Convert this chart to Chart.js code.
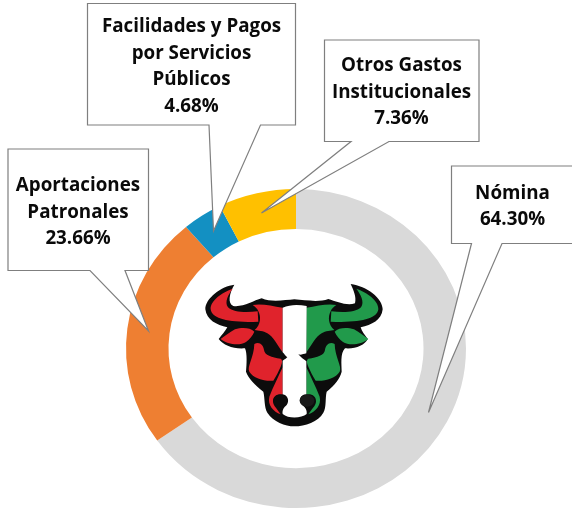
<!DOCTYPE html>
<html lang="es">
<head>
<meta charset="utf-8">
<title>Distribución del gasto</title>
<script src="https://cdn.jsdelivr.net/npm/chart.js@4"></script>
<style>
html,body{margin:0;padding:0;background:#fff;}
#wrap{position:relative;width:572px;height:510px;overflow:hidden;}
canvas{display:block;}
</style>
</head>
<body>
<div id="wrap"><canvas id="c" width="572" height="510"></canvas></div>
<script>
const categories = ["Nómina", "Aportaciones Patronales", "Facilidades y Pagos por Servicios Públicos", "Otros Gastos Institucionales"];
// percentages as printed in the callouts
const values = [64.30, 23.66, 4.68, 7.36];
// arc sizes as measured on the ring in the picture (they differ slightly from the printed figures)
const sliceShares = [65.2, 23.6, 3.8, 7.4];
const sliceColors = ["#d9d9d9", "#ee7f32", "#1390c2", "#ffc000"];
const labelLines = [
  ["Nómina"],
  ["Aportaciones", "Patronales"],
  ["Facilidades y Pagos", "por Servicios", "Públicos"],
  ["Otros Gastos", "Institucionales"]
];
const callouts = [
  {x0:451.5, y0:166, x1:575, y1:243.5, tail:[[471.5,243.5],[428.5,412.5],[502,243.5]], cx:512.5, top:194, lh:26},
  {x0:8, y0:149, x1:148.5, y1:270.5, tail:[[90,270.5],[148.5,331],[125,270.5]], cx:78, top:186, lh:26.5},
  {x0:87.5, y0:3.5, x1:295.5, y1:125, tail:[[209,125],[213.5,231],[260.5,125]], cx:191.5, top:27, lh:26.4},
  {x0:324.5, y0:40, x1:479, y1:141.5, tail:[[351,141.5],[261.5,213],[389,141.5]], cx:401.5, top:66, lh:26.5}
];
const RX_OVER_RY = 170 / 159.5;

const ellipseRing = {
  id: 'ellipseRing',
  beforeDatasetsDraw(chart) {
    const a = chart.chartArea, c = chart.ctx;
    const cx = (a.left + a.right) / 2;
    c.save();
    c.translate(cx, 0); c.scale(RX_OVER_RY, 1); c.translate(-cx, 0);
  },
  afterDatasetsDraw(chart) { chart.ctx.restore(); }
};

function drawHalfBull(c, fill) {
  c.fillStyle = fill;
  c.fill(new Path2D("M128 56 C98 66 60 92 62 118 C66 146 112 159 205 155 L203 124 C170 128 130 128 114 112 C102 96 116 72 128 56Z"));
  c.fill(new Path2D("M188 105 C215 100 245 108 278 113 L278 247 C262 225 250 200 232 190 C220 182 205 182 194 180 C212 165 214 140 205 124 C202 115 195 110 188 105Z"));
  c.fill(new Path2D("M92 207 C105 198 120 186 135 178 C155 172 180 172 193 185 C188 198 178 208 168 216 C150 228 112 224 92 207Z"));
  c.fill(new Path2D("M193 222 C208 214 220 224 222 240 C224 256 245 262 272 266 C278 270 277 278 272 290 C265 305 258 320 250 332 C225 335 190 325 178 305 C170 290 192 262 193 222Z"));
  c.fill(new Path2D("M278 292 L278 373 C262 370 248 378 249 395 C250 408 262 416 272 433 C250 425 232 405 238 380 C250 350 265 320 278 292Z"));
}

function drawBull(c) {
  c.save();
  c.translate(190, 270);
  c.scale(1/3, 1/3);
  c.fillStyle = "#0c0c0c";
  c.fill(new Path2D("M133 44 C95 48 45 85 46 118 C50 150 80 165 112 172 C105 185 95 195 86 207 C100 225 130 238 165 235 C172 250 170 285 168 305 C175 325 195 345 220 365 C225 385 222 410 232 428 C250 455 285 469 313 469 C345 469 385 455 400 428 C410 410 405 385 410 365 C435 345 450 325 455 305 C455 285 450 250 465 235 C495 238 525 225 533 207 C525 195 515 185 512 172 C545 165 575 150 578 118 C578 85 530 48 482 42 C490 60 500 80 495 100 C470 108 440 95 415 87 C385 98 345 90 313 88 C285 90 245 98 215 85 C190 92 160 112 130 108 C112 100 118 70 133 44Z"));
  drawHalfBull(c, "#e0232c");
  c.save();
  c.translate(627, 0); c.scale(-1, 1);
  drawHalfBull(c, "#219a4b");
  c.restore();
  c.fillStyle = "#ffffff";
  c.fill(new Path2D("M278 113 C300 103 325 103 350 108 L349 250 C340 252 332 256 325 253 C332 262 342 268 349 274 L349 373 C335 372 320 390 337 405 C345 412 352 420 350 432 C335 445 295 447 278 432 C276 420 282 412 290 405 C300 392 292 375 278 373 L278 272 C285 268 290 264 292 262 C287 258 283 252 278 247Z"));
  c.fillStyle = "#0c0c0c";
  c.beginPath(); c.ellipse(271, 392, 21, 18, 0, 0, Math.PI*2); c.fill();
  c.fillStyle = "#1a1a1a";
  c.beginPath(); c.ellipse(351, 392, 22, 18, 0, 0, Math.PI*2); c.fill();
  c.restore();
}

const overlay = {
  id: 'overlay',
  afterDraw(chart) {
    const c = chart.ctx;
    drawBull(c);
    callouts.forEach((o, i) => {
      const t = o.tail;
      c.beginPath();
      c.moveTo(o.x0, o.y0); c.lineTo(o.x1, o.y0); c.lineTo(o.x1, o.y1);
      c.lineTo(t[2][0], t[2][1]); c.lineTo(t[1][0], t[1][1]); c.lineTo(t[0][0], t[0][1]);
      c.lineTo(o.x0, o.y1); c.closePath();
      c.fillStyle = "#ffffff"; c.fill();
      c.strokeStyle = "#7f7f7f"; c.lineWidth = 1.2; c.lineJoin = "miter"; c.stroke();
      const lines = labelLines[i].concat(values[i].toFixed(2) + "%");
      c.fillStyle = "#0a0a0a";
      c.font = "bold 18.8px 'Open Sans'";
      c.textAlign = "center"; c.textBaseline = "middle";
      lines.forEach((s, k) => c.fillText(s, o.cx, o.top + k * o.lh));
    });
  }
};

new Chart(document.getElementById('c'), {
  type: 'doughnut',
  data: { labels: categories, datasets: [{ data: sliceShares, backgroundColor: sliceColors, borderWidth: 0, clip: false }] },
  options: {
    responsive: false,
    animation: false,
    cutout: '75%',
    layout: { padding: { left: 126, right: 106, top: 189, bottom: 2 } },
    plugins: { legend: { display: false }, tooltip: { enabled: false } }
  },
  plugins: [ellipseRing, overlay]
});
</script>
</body>
</html>
